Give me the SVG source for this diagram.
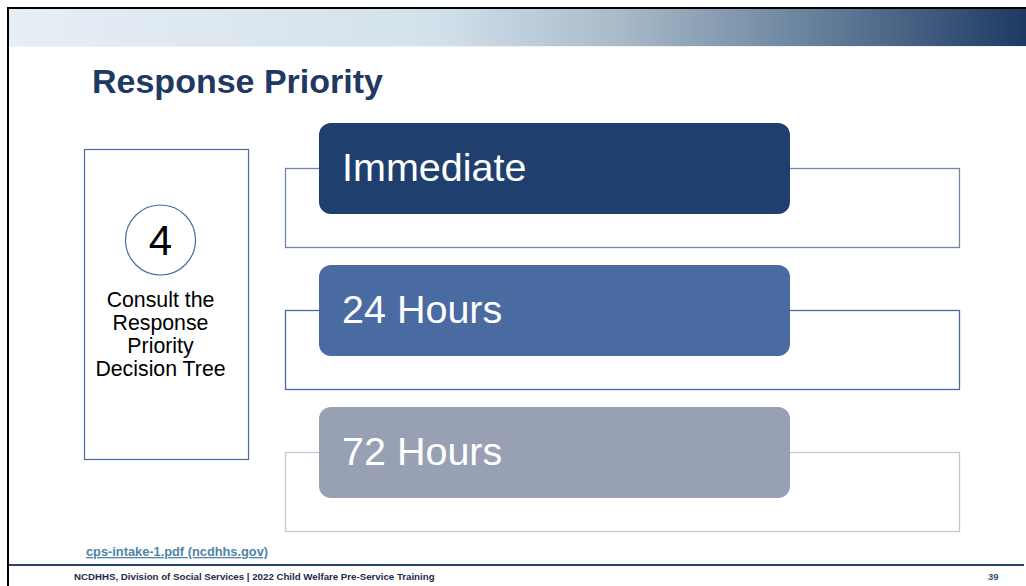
<svg xmlns="http://www.w3.org/2000/svg" width="1026" height="586" viewBox="0 0 1026 586">
<defs>
<linearGradient id="band" x1="0" y1="0" x2="1" y2="0">
<stop offset="0" stop-color="#e7eef6"/>
<stop offset="0.42" stop-color="#d2e1eb"/>
<stop offset="0.6" stop-color="#a9bac9"/>
<stop offset="0.8" stop-color="#647e9a"/>
<stop offset="1" stop-color="#1e3a63"/>
</linearGradient>
<style>
.frame{fill:none;stroke-width:1.3}
.lbl{font-family:"Liberation Sans",Arial,sans-serif;font-size:39.5px;fill:#ffffff}
.side{font-family:"Liberation Sans",Arial,sans-serif;font-size:21.3px;fill:#000000;text-anchor:middle}
</style>
</defs>
<rect x="0" y="0" width="1026" height="586" fill="#ffffff"/>
<rect x="9" y="9" width="1017" height="37" fill="url(#band)"/>
<line x1="9" y1="46.5" x2="1026" y2="46.5" stroke="#eef3f8" stroke-width="1"/>
<line x1="7" y1="8" x2="1026" y2="8" stroke="#000000" stroke-width="2"/>
<line x1="8" y1="8" x2="8" y2="586" stroke="#000000" stroke-width="2"/>
<line x1="9" y1="565" x2="1024" y2="565" stroke="#2a446a" stroke-width="2"/>
<text x="92" y="93" font-family="Liberation Sans,Arial,sans-serif" font-size="34" font-weight="bold" fill="#1f3864">Response Priority</text>

<g id="step">
<rect x="84.5" y="149.5" width="164" height="310" fill="none" stroke="#4a6aa0" stroke-width="1.2"/>
<circle cx="160.5" cy="240" r="35" fill="none" stroke="#4a6aa0" stroke-width="1.2"/>
<text x="160.5" y="255" class="side" style="font-size:42px">4</text>
<text x="160.5" y="307" class="side">Consult the</text>
<text x="160.5" y="330" class="side">Response</text>
<text x="160.5" y="353" class="side">Priority</text>
<text x="160.5" y="376" class="side">Decision Tree</text>
</g>

<g id="connectors">
<rect x="285.5" y="168.5" width="674" height="79" class="frame" stroke="#6f86ad"/>
<rect x="285.5" y="310.5" width="674" height="79" class="frame" stroke="#4a6aa2"/>
<rect x="285.5" y="452.5" width="674" height="79" class="frame" stroke="#c3c7d3"/>
</g>

<g id="immediate">
<rect x="319" y="123" width="471" height="91" rx="12" fill="#1f406f"/>
<text x="342" y="181" class="lbl">Immediate</text>
</g>
<g id="hours24">
<rect x="319" y="265" width="471" height="91" rx="12" fill="#4a6aa2"/>
<text x="342" y="323" class="lbl">24 Hours</text>
</g>
<g id="hours72">
<rect x="319" y="407" width="471" height="91" rx="12" fill="#98a1b3"/>
<text x="342" y="465" class="lbl">72 Hours</text>
</g>

<text x="86" y="556" font-family="Liberation Sans,Arial,sans-serif" font-size="12.8" font-weight="bold" fill="#4f84a6" text-decoration="underline">cps-intake-1.pdf (ncdhhs.gov)</text>
<text x="74" y="580" font-family="Liberation Sans,Arial,sans-serif" font-size="9.7" font-weight="bold" fill="#1f2a44">NCDHHS, Division of Social Services | 2022 Child Welfare Pre-Service Training</text>
<text x="988" y="580" font-family="Liberation Sans,Arial,sans-serif" font-size="9.5" font-weight="bold" fill="#3c5070">39</text>
</svg>
